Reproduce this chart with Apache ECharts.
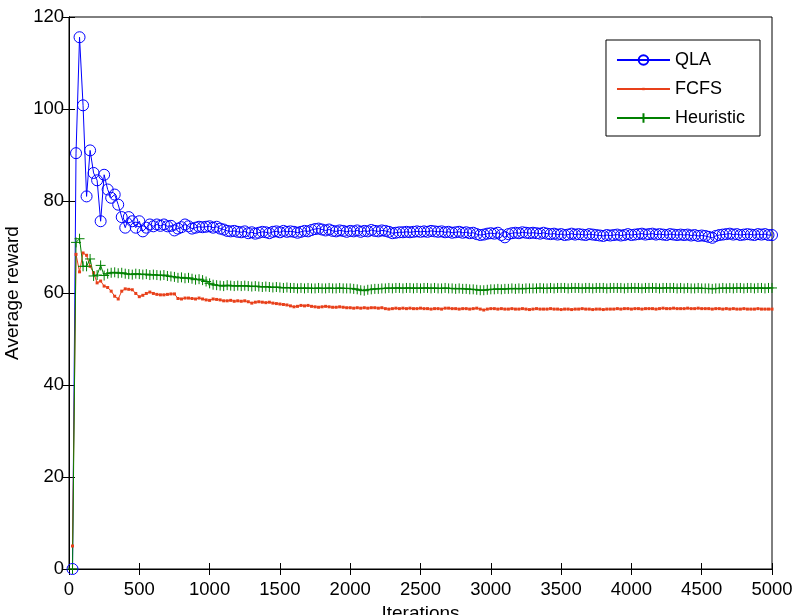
<!DOCTYPE html>
<html>
<head>
<meta charset="utf-8">
<script src="https://cdn.jsdelivr.net/npm/echarts@6/dist/echarts.min.js"></script>
<style>html,body{margin:0;padding:0;background:#fff;overflow:hidden;}#c{width:793px;height:615px;}</style>
</head>
<body>
<div id="c"></div>
<script>
// iteration sampling: first sample at 25, every 25 iterations up to 5000
const iterStart = 25;
const iterStep = 25;
const xTicks = [0, 500, 1000, 1500, 2000, 2500, 3000, 3500, 4000, 4500, 5000];
const yTicks = [0, 20, 40, 60, 80, 100, 120];
const seriesNames = ['QLA', 'FCFS', 'Heuristic'];

const qla = [
0,90.4,115.6,100.8,81.0,91.0,86.1,84.5,75.6,85.7,
82.5,80.7,81.4,79.2,76.5,74.2,76.5,75.6,74.2,75.6,
73.4,74.2,74.9,74.5,74.9,74.6,74.9,74.5,74.6,73.6,
74.0,74.3,74.9,74.5,74.0,74.2,74.4,74.3,74.4,74.5,
74.2,74.4,74.0,73.8,73.5,73.4,73.5,73.3,73.2,73.4,
73.0,73.2,72.9,73.1,73.3,73.2,73.0,73.3,73.4,73.2,
73.5,73.3,73.4,73.3,73.1,73.3,73.5,73.4,73.7,73.9,
74.0,73.8,73.6,73.8,73.5,73.4,73.6,73.5,73.3,73.5,
73.4,73.6,73.3,73.5,73.4,73.7,73.5,73.4,73.6,73.5,
73.3,73.0,73.1,73.2,73.2,73.3,73.2,73.3,73.4,73.3,
73.4,73.3,73.5,73.4,73.3,73.4,73.2,73.3,73.1,73.2,
73.3,73.1,73.2,73.0,73.1,72.8,72.6,72.7,72.9,73.0,
72.9,73.1,72.6,72.1,72.8,73.0,73.1,73.0,73.2,73.1,
73.0,73.1,73.0,72.9,73.1,72.9,72.8,72.9,72.7,72.8,
72.6,72.7,72.9,72.7,72.8,72.7,72.6,72.8,72.7,72.6,
72.5,72.4,72.6,72.5,72.6,72.7,72.5,72.6,72.8,72.6,
72.7,72.8,72.9,72.7,72.8,72.9,72.7,72.8,72.7,72.6,
72.8,72.7,72.6,72.7,72.6,72.7,72.5,72.6,72.4,72.5,
72.4,72.2,72.0,72.4,72.6,72.7,72.8,72.9,72.7,72.8,
72.6,72.7,72.8,72.7,72.6,72.8,72.7,72.8,72.6,72.6
];

const fcfs = [
5.0,68.4,64.6,68.7,68.2,65.8,64.4,62.2,62.6,61.5,
61.2,60.4,59.3,58.7,60.4,60.9,60.8,60.7,59.9,59.2,
59.5,59.9,60.2,59.9,59.7,59.6,59.6,59.7,59.8,59.8,
58.8,58.7,58.9,58.9,58.8,58.7,58.9,58.7,58.5,58.4,
58.7,58.6,58.5,58.3,58.3,58.4,58.2,58.3,58.2,58.3,
58.1,57.8,58.0,58.1,58.0,57.9,58.0,57.8,57.7,57.6,
57.5,57.4,57.2,57.0,57.1,57.3,57.2,57.3,57.1,57.0,
56.9,57.0,57.1,57.0,56.9,56.9,57.0,56.9,56.8,56.8,
56.7,56.8,56.7,56.8,56.7,56.8,56.8,56.7,56.8,56.6,
56.5,56.6,56.7,56.6,56.7,56.6,56.7,56.6,56.6,56.7,
56.6,56.6,56.5,56.6,56.6,56.5,56.7,56.7,56.6,56.6,
56.5,56.6,56.6,56.5,56.6,56.7,56.5,56.3,56.5,56.6,
56.6,56.5,56.6,56.5,56.5,56.6,56.5,56.5,56.6,56.5,
56.4,56.5,56.6,56.5,56.5,56.5,56.6,56.5,56.5,56.4,
56.5,56.5,56.4,56.5,56.5,56.6,56.5,56.5,56.4,56.5,
56.5,56.4,56.5,56.5,56.5,56.6,56.5,56.6,56.6,56.5,
56.6,56.6,56.5,56.6,56.6,56.6,56.5,56.6,56.7,56.6,
56.6,56.7,56.6,56.6,56.6,56.7,56.6,56.6,56.7,56.6,
56.6,56.6,56.5,56.6,56.6,56.5,56.6,56.5,56.6,56.5,
56.5,56.6,56.5,56.5,56.5,56.6,56.5,56.5,56.5,56.5
];

const heuristic = [
0,71.0,71.8,65.8,65.8,67.4,63.7,63.9,66.0,63.8,
64.2,64.4,64.5,64.3,64.4,64.2,64.1,64.0,64.2,64.1,
64.0,64.1,63.9,64.0,63.9,63.8,63.9,63.7,63.6,63.5,
63.3,63.4,63.2,63.3,63.1,62.9,63.0,62.8,62.5,62.1,
61.8,61.7,61.6,61.5,61.7,61.6,61.5,61.6,61.5,61.6,
61.5,61.4,61.5,61.4,61.3,61.4,61.3,61.2,61.3,61.2,
61.1,61.2,61.1,61.1,61.0,61.1,61.0,61.1,61.0,61.0,
61.1,61.0,61.0,61.1,61.0,61.0,61.1,61.0,61.0,61.0,
60.9,60.8,60.6,60.5,60.7,60.8,60.9,60.9,61.0,61.0,
61.1,61.0,61.1,61.1,61.0,61.1,61.1,61.0,61.1,61.0,
61.1,61.1,61.0,61.1,61.0,61.0,61.1,61.0,61.0,60.9,
61.0,60.9,60.9,60.8,60.8,60.7,60.6,60.6,60.7,60.8,
60.8,60.9,60.8,60.9,60.9,61.0,60.9,61.0,60.9,61.0,
61.0,61.0,61.0,61.1,61.0,61.0,61.1,61.0,61.1,61.1,
61.1,61.0,61.1,61.1,61.1,61.0,61.1,61.1,61.0,61.1,
61.1,61.1,61.0,61.1,61.1,61.1,61.1,61.0,61.1,61.1,
61.1,61.1,61.0,61.1,61.1,61.1,61.1,61.0,61.1,61.1,
61.1,61.1,61.0,61.1,61.0,61.1,61.0,61.0,61.1,61.0,
61.0,61.0,60.9,61.0,61.0,61.1,61.0,61.1,61.0,61.1,
61.1,61.0,61.1,61.1,61.0,61.1,61.1,61.0,61.1,61.1
];

function pairs(vals) {
  return vals.map((v, i) => [iterStart + i * iterStep, v]);
}

const FONT = 'Liberation Sans';
const chart = echarts.init(document.getElementById('c'), null, {renderer: 'canvas'});

function axisBase() {
  return {
    axisLine: {show: true, lineStyle: {color: '#000', width: 1}},
    axisTick: {show: true, inside: true, length: 6, lineStyle: {color: '#000', width: 1}},
    splitLine: {show: false}
  };
}

const plusPath = 'path://M5,0 L5,10 M0,5 L10,5';
// small square dot, padded so its drawn size is a fraction of the symbol box
const dotPath = 'path://M0,0 M8,8 M3,3 L5,3 L5,5 L3,5 Z';

chart.setOption({
  animation: false,
  backgroundColor: '#fff',
  textStyle: {fontFamily: FONT},
  grid: {left: 69, right: 21, top: 17, bottom: 46, show: true, borderColor: '#000', borderWidth: 1,
         backgroundColor: 'transparent', outerBoundsMode: 'none', containLabel: false},
  legend: {
    data: seriesNames,
    orient: 'vertical',
    right: 33,
    top: 40,
    padding: [11, 15, 9, 10],
    itemGap: 11,
    itemWidth: 53,
    itemHeight: 12,
    borderColor: '#000',
    borderWidth: 1,
    borderRadius: 0,
    backgroundColor: '#fff',
    textStyle: {fontFamily: FONT, fontSize: 18, color: '#000'}
  },
  xAxis: [
    Object.assign(axisBase(), {
      type: 'value', min: 0, max: 5000, interval: 500, position: 'bottom',
      name: 'Iterations', nameLocation: 'middle', nameGap: 29,
      nameTextStyle: {fontFamily: FONT, fontSize: 19, color: '#000'},
      axisLabel: {fontFamily: FONT, fontSize: 18.5, color: '#000', margin: 11,
        formatter: v => (xTicks.indexOf(v) >= 0 ? String(v) : '')}
    }),
    Object.assign(axisBase(), {
      type: 'value', min: 0, max: 5000, interval: 500, position: 'top',
      axisLabel: {show: false}
    })
  ],
  yAxis: [
    Object.assign(axisBase(), {
      type: 'value', min: 0, max: 120, interval: 20, position: 'left',
      name: 'Average reward', nameLocation: 'middle', nameGap: 43,
      nameTextStyle: {fontFamily: FONT, fontSize: 19, color: '#000'},
      axisLabel: {fontFamily: FONT, fontSize: 18.5, color: '#000', margin: 5,
        formatter: v => (yTicks.indexOf(v) >= 0 ? String(v) : '')}
    }),
    Object.assign(axisBase(), {
      type: 'value', min: 0, max: 120, interval: 20, position: 'right',
      axisLabel: {show: false}
    })
  ],
  series: [
    {
      name: 'QLA', type: 'line', data: pairs(qla),
      symbol: 'circle', symbolSize: 11, showAllSymbol: true,
      lineStyle: {color: '#0000ff', width: 1},
      itemStyle: {color: 'rgba(0,0,255,0)', borderColor: '#0000ff', borderWidth: 1},
      emphasis: {disabled: true}
    },
    {
      name: 'FCFS', type: 'line', data: pairs(fcfs),
      symbol: dotPath, symbolSize: 12, showAllSymbol: true,
      lineStyle: {color: '#e8401a', width: 1},
      itemStyle: {color: '#e8401a', borderWidth: 0},
      emphasis: {disabled: true}
    },
    {
      name: 'Heuristic', type: 'line', data: pairs(heuristic),
      symbol: plusPath, symbolSize: 10, showAllSymbol: true,
      lineStyle: {color: '#008000', width: 1},
      itemStyle: {color: '#008000', borderColor: '#008000', borderWidth: 1},
      emphasis: {disabled: true}
    }
  ]
});
</script>
</body>
</html>
